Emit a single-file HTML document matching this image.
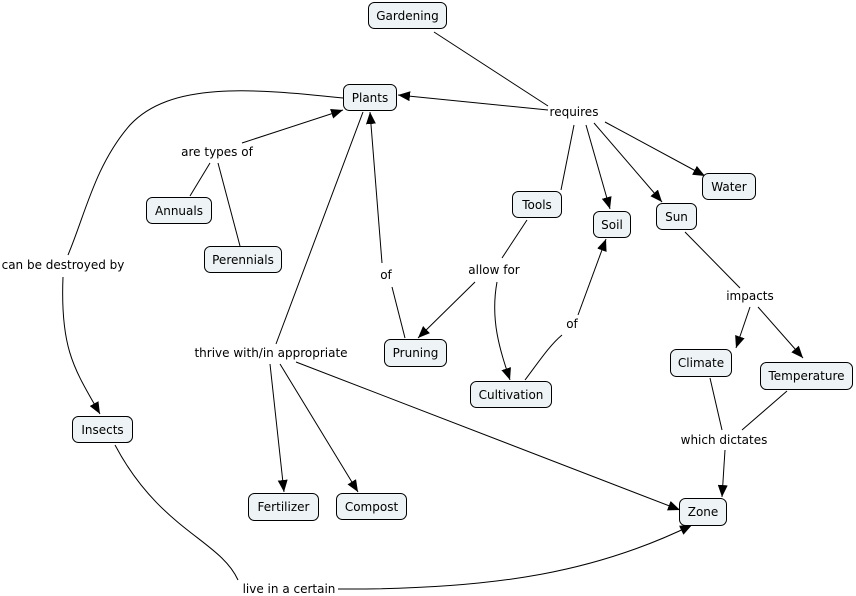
<!DOCTYPE html>
<html><head><meta charset="utf-8"><style>
html,body{margin:0;padding:0;background:#fff;}
svg{display:block;}
text{font-family:"DejaVu Sans","Liberation Sans",sans-serif;font-size:12px;fill:#000;}
.n{fill:#eef3f5;stroke:#000;stroke-width:1;}
.l{fill:none;stroke:#000;stroke-width:1;}
</style></head><body>
<svg width="856" height="596" viewBox="0 0 856 596" xmlns="http://www.w3.org/2000/svg">
<defs><marker id="a" viewBox="0 0 12 10" refX="12" refY="5" markerWidth="12" markerHeight="10" markerUnits="userSpaceOnUse" orient="auto"><path d="M0,0 L12,5 L0,10 Z" fill="#000"/></marker></defs>
<g class="l">
<path d="M434,32 L548,106"/>
<path d="M548,110 L398,95" marker-end="url(#a)"/>
<path d="M605,122 L705,176" marker-end="url(#a)"/>
<path d="M586,125 L610,209" marker-end="url(#a)"/>
<path d="M594,123 L662,202" marker-end="url(#a)"/>
<path d="M561,190 L574,125"/>
<path d="M343,98 C250,88 170,82 130,125 C95,165 85,215 68,255"/>
<path d="M63,277 C60,350 75,370 100,414" marker-end="url(#a)"/>
<path d="M242,143 L343,110" marker-end="url(#a)"/>
<path d="M190,196 L210,163"/>
<path d="M240,246 L218,163"/>
<path d="M405,338 L392,287"/>
<path d="M382,263 L370,112" marker-end="url(#a)"/>
<path d="M527,220 L502,258"/>
<path d="M475,282 L418,338" marker-end="url(#a)"/>
<path d="M497,282 C490,320 500,350 510,380" marker-end="url(#a)"/>
<path d="M525,380 C540,360 550,345 562,335"/>
<path d="M578,315 L606,239" marker-end="url(#a)"/>
<path d="M363,112 L276,344"/>
<path d="M270,364 L284,492" marker-end="url(#a)"/>
<path d="M280,364 L358,492" marker-end="url(#a)"/>
<path d="M296,362 L680,510" marker-end="url(#a)"/>
<path d="M685,232 L740,288"/>
<path d="M750,307 L736,348" marker-end="url(#a)"/>
<path d="M758,307 L803,358" marker-end="url(#a)"/>
<path d="M710,378 L722,430"/>
<path d="M787,391 L742,430"/>
<path d="M725,450 L722,497" marker-end="url(#a)"/>
<path d="M115,445 C160,530 220,540 238,580"/>
<path d="M338,589 C500,590 600,570 692,525" marker-end="url(#a)"/>
</g>
<g>
<rect class="n" x="368.5" y="2.5" width="78" height="26" rx="6"/><text x="407.5" y="20" text-anchor="middle">Gardening</text>
<rect class="n" x="343.5" y="84.5" width="53" height="26" rx="6"/><text x="370" y="102" text-anchor="middle">Plants</text>
<rect class="n" x="146.5" y="197.5" width="65" height="26" rx="6"/><text x="179" y="215" text-anchor="middle">Annuals</text>
<rect class="n" x="204.5" y="246.5" width="77" height="26" rx="6"/><text x="243" y="264" text-anchor="middle">Perennials</text>
<rect class="n" x="512.5" y="191.5" width="49" height="26" rx="6"/><text x="537" y="209" text-anchor="middle">Tools</text>
<rect class="n" x="593.5" y="211.5" width="37" height="26" rx="6"/><text x="612" y="229" text-anchor="middle">Soil</text>
<rect class="n" x="656.5" y="203.5" width="40" height="26" rx="6"/><text x="676.5" y="221" text-anchor="middle">Sun</text>
<rect class="n" x="702.5" y="173.5" width="53" height="26" rx="6"/><text x="729" y="191" text-anchor="middle">Water</text>
<rect class="n" x="384.5" y="339.5" width="62" height="27" rx="6"/><text x="415.5" y="357" text-anchor="middle">Pruning</text>
<rect class="n" x="470.5" y="381.5" width="81" height="26" rx="6"/><text x="511" y="399" text-anchor="middle">Cultivation</text>
<rect class="n" x="670.5" y="349.5" width="61" height="27" rx="6"/><text x="701" y="367" text-anchor="middle">Climate</text>
<rect class="n" x="760.5" y="362.5" width="92" height="27" rx="6"/><text x="806.5" y="380" text-anchor="middle">Temperature</text>
<rect class="n" x="72.5" y="416.5" width="60" height="26" rx="6"/><text x="102.5" y="434" text-anchor="middle">Insects</text>
<rect class="n" x="248.5" y="493.5" width="70" height="27" rx="6"/><text x="283.5" y="511" text-anchor="middle">Fertilizer</text>
<rect class="n" x="336.5" y="493.5" width="70" height="26" rx="6"/><text x="371.5" y="511" text-anchor="middle">Compost</text>
<rect class="n" x="679.5" y="498.5" width="47" height="27" rx="6"/><text x="703" y="516" text-anchor="middle">Zone</text>
</g>
<g text-anchor="middle">
<text x="574" y="116">requires</text>
<text x="217" y="156">are types of</text>
<text x="63" y="269">can be destroyed by</text>
<text x="494" y="274">allow for</text>
<text x="386" y="279">of</text>
<text x="572" y="328">of</text>
<text x="750" y="300">impacts</text>
<text x="271" y="357">thrive with/in appropriate</text>
<text x="724" y="444">which dictates</text>
<text x="289" y="593">live in a certain</text>
</g>
</svg>
</body></html>
